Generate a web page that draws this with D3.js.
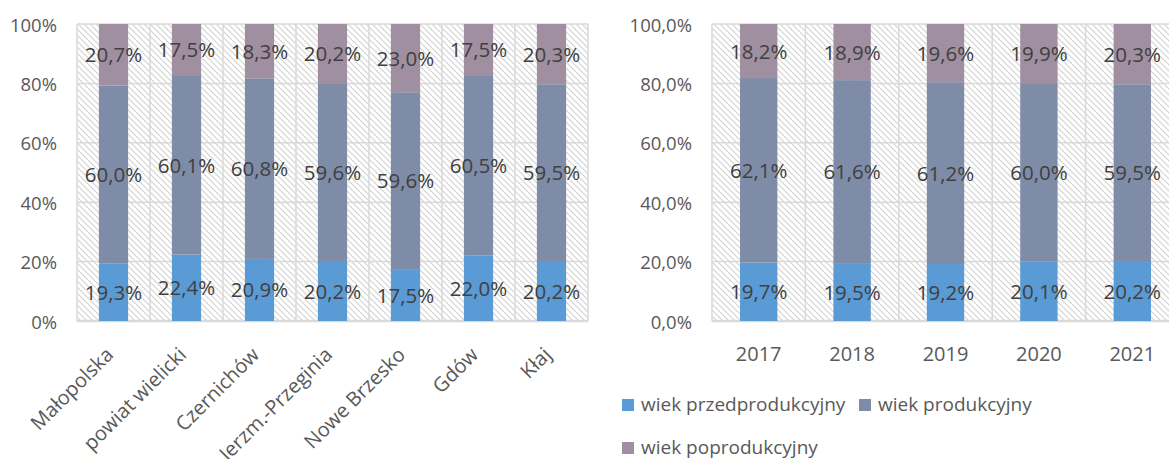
<!DOCTYPE html>
<html>
<head>
  <meta charset="utf-8">
  <title>Struktura wieku ludności</title>
  <script src="https://d3js.org/d3.v7.min.js"></script>
  <style>
    body { margin: 0; background: #fff; }
    text { font-family: "Open Sans", sans-serif; }
    .grid line { stroke: #d9d9d9; stroke-width: 1.5px; }
    .tick-label { fill: #595959; font-size: 18.5px; }
    .cat-label { fill: #595959; font-size: 20px; }
    .value-label { fill: #404040; font-size: 20.5px; }
    .legend text { fill: #595959; font-size: 19px; }
  </style>
</head>
<body>
<div id="chart"></div>

<script>
  //gminy
  var regions = ["Małopolska", "powiat wielicki", "Czernichów", "Jerzm.-Przeginia", "Nowe Brzesko", "Gdów", "Kłaj"];
  var regionPre = [19.3, 22.4, 20.9, 20.2, 17.5, 22.0, 20.2];
  var regionProd = [60.0, 60.1, 60.8, 59.6, 59.6, 60.5, 59.5];
  var regionPost = [20.7, 17.5, 18.3, 20.2, 23.0, 17.5, 20.3];

  //lata
  var years = ["2017", "2018", "2019", "2020", "2021"];
  var yearPre = [19.7, 19.5, 19.2, 20.1, 20.2];
  var yearProd = [62.1, 61.6, 61.2, 60.0, 59.5];
  var yearPost = [18.2, 18.9, 19.6, 19.9, 20.3];

  var seriesNames = ["wiek przedprodukcyjny", "wiek produkcyjny", "wiek poprodukcyjny"];
  var seriesKeys = ["pre", "prod", "post"];
  var colors = ["#5b9bd5", "#7f8ca8", "#a08fa0"];
  var yTicks = [0, 0.2, 0.4, 0.6, 0.8, 1];

  var width = 1169, height = 459;

  var svg = d3.select("#chart").append("svg")
          .attr("width", width).attr("height", height);

  //hatched plot background
  var pat = svg.append("defs").append("pattern")
          .attr("id", "hatch").attr("patternUnits", "userSpaceOnUse")
          .attr("width", 6).attr("height", 6);
  pat.append("rect").attr("width", 6).attr("height", 6).attr("fill", "#fff");
  pat.append("path")
          .attr("d", "M-1,-1L7,7M-1,5L1,7M5,-1L7,1")
          .attr("stroke", "#d4d4d4").attr("stroke-width", 1.2);

  var fmtValue = function(v) { return v.toFixed(1).replace(".", ",") + "%"; };

  var drawChart = function(opts) {
    var data = opts.cats.map(function(c, i) {
      return { cat: c, pre: opts.pre[i], prod: opts.prod[i], post: opts.post[i] };
    });

    var x = d3.scaleBand().domain(opts.cats).range([opts.x0, opts.x1])
            .paddingInner(0.6).paddingOuter(0.3);
    var y = d3.scaleLinear().domain([0, 1]).range([opts.y1, opts.y0]);

    var stacked = d3.stack().keys(seriesKeys).offset(d3.stackOffsetExpand)(data);

    var g = svg.append("g");

    g.append("rect")
            .attr("x", opts.x0).attr("y", opts.y0)
            .attr("width", opts.x1 - opts.x0).attr("height", opts.y1 - opts.y0)
            .attr("fill", "url(#hatch)");

    //grid
    var grid = g.append("g").attr("class", "grid");
    grid.selectAll(".h").data(yTicks).enter().append("line")
            .attr("x1", opts.x0).attr("x2", opts.x1)
            .attr("y1", function(d) { return y(d); }).attr("y2", function(d) { return y(d); });
    var bounds = opts.cats.map(function(c) { return x(c) - x.step() * x.paddingOuter(); });
    bounds.push(opts.x1);
    grid.selectAll(".v").data(bounds).enter().append("line")
            .attr("x1", function(d) { return d; }).attr("x2", function(d) { return d; })
            .attr("y1", opts.y0).attr("y2", opts.y1);
    g.append("line")
            .attr("x1", opts.x0).attr("x2", opts.x1).attr("y1", opts.y1).attr("y2", opts.y1)
            .attr("stroke", "#d9d9d9").attr("stroke-width", 2.5);

    //bars
    stacked.forEach(function(s, si) {
      g.append("g").selectAll("rect").data(s).enter().append("rect")
              .attr("x", function(d) { return x(d.data.cat); })
              .attr("width", x.bandwidth())
              .attr("y", function(d) { return y(d[1]); })
              .attr("height", function(d) { return y(d[0]) - y(d[1]); })
              .attr("fill", colors[si]);
    });

    //value labels
    stacked.forEach(function(s) {
      g.append("g").selectAll("text").data(s).enter().append("text")
              .attr("class", "value-label")
              .attr("text-anchor", "middle")
              .attr("x", function(d) { return x(d.data.cat) + x.bandwidth() / 2; })
              .attr("y", function(d) { return (y(d[0]) + y(d[1])) / 2 + 7.5; })
              .text(function(d) { return fmtValue(d.data[s.key]); });
    });

    //y axis labels
    g.selectAll(".ytick").data(yTicks).enter().append("text")
            .attr("class", "tick-label")
            .attr("text-anchor", "end")
            .attr("x", opts.x0 - 20)
            .attr("y", function(d) { return y(d) + 7.5; })
            .text(opts.yFormat);

    //x axis labels
    var xl = g.selectAll(".xtick").data(opts.cats).enter().append("text")
            .attr("class", "cat-label")
            .text(function(d) { return d; });
    if (opts.rotate) {
      xl.attr("text-anchor", "end")
              .attr("transform", function(d) {
                return "translate(" + (x(d) + x.bandwidth() / 2 + 1) + ",356)rotate(-45)";
              });
    } else {
      xl.attr("text-anchor", "middle")
              .attr("x", function(d) { return x(d) + x.bandwidth() / 2; })
              .attr("y", 361);
    }
  };

  drawChart({
    cats: regions, pre: regionPre, prod: regionProd, post: regionPost,
    x0: 77, x1: 588, y0: 24, y1: 321, rotate: true,
    yFormat: function(d) { return Math.round(d * 100) + "%"; }
  });

  drawChart({
    cats: years, pre: yearPre, prod: yearProd, post: yearPost,
    x0: 712, x1: 1179, y0: 24, y1: 321, rotate: false,
    yFormat: function(d) { return (d * 100).toFixed(1).replace(".", ",") + "%"; }
  });

  //legend
  var legendPos = [[622, 399], [859, 399], [622, 442]];
  var legend = svg.append("g").attr("class", "legend");
  var item = legend.selectAll("g").data(seriesNames).enter().append("g")
          .attr("transform", function(d, i) { return "translate(" + legendPos[i][0] + "," + legendPos[i][1] + ")"; });
  item.append("rect").attr("width", 12).attr("height", 12)
          .attr("fill", function(d, i) { return colors[i]; });
  item.append("text").attr("x", 19).attr("y", 12).text(function(d) { return d; });
</script>

</body>
</html>
